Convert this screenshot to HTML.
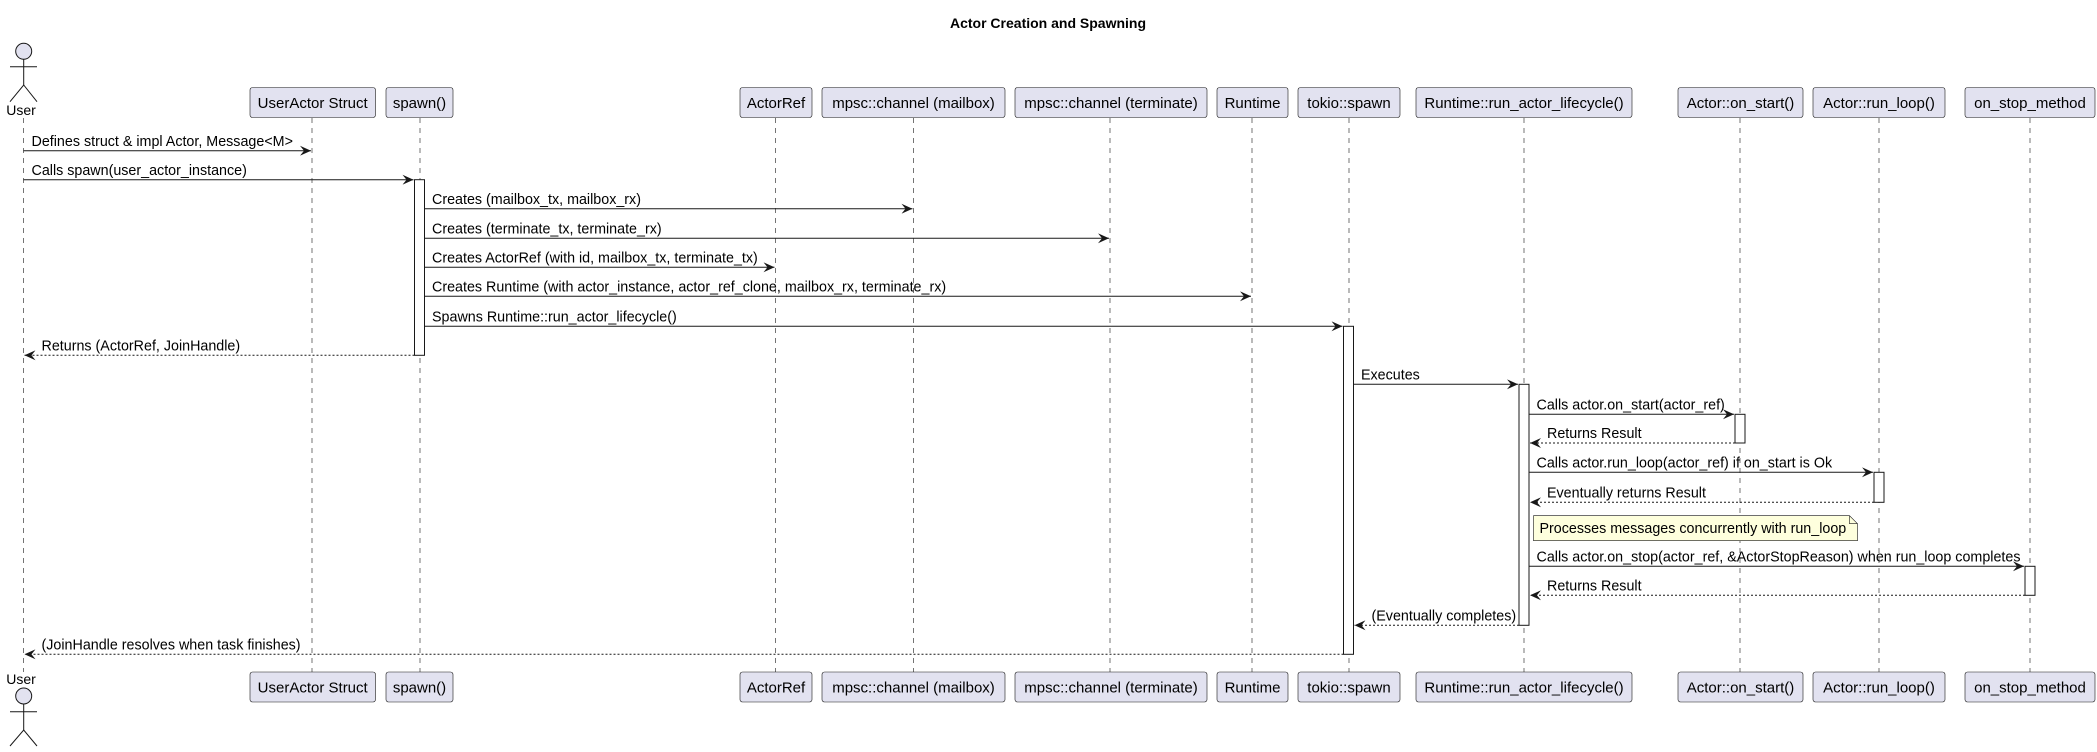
<!DOCTYPE html>
<html><head><meta charset="utf-8"><style>
html,body{margin:0;padding:0;background:#fff;}
svg{display:block;font-family:"Liberation Sans",sans-serif;}
</style></head><body>
<svg width="2097" height="752" viewBox="0 0 2097 752" xmlns="http://www.w3.org/2000/svg">
<defs>
<marker id="a" markerWidth="12" markerHeight="10" refX="11" refY="5" orient="auto" markerUnits="userSpaceOnUse">
<path d="M0,0 L11,5 L0,10 L4,5 Z" fill="#181818"/>
</marker>
</defs>
<text x="1048" y="28" text-anchor="middle" font-size="14" font-weight="bold" fill="#000">Actor Creation and Spawning</text>

<g stroke="#181818" stroke-width="0.6" stroke-dasharray="5,5">
<line x1="23.5" y1="118" x2="23.5" y2="672"/>
<line x1="312" y1="118" x2="312" y2="672"/>
<line x1="420" y1="118" x2="420" y2="672"/>
<line x1="775.5" y1="118" x2="775.5" y2="672"/>
<line x1="913.5" y1="118" x2="913.5" y2="672"/>
<line x1="1110" y1="118" x2="1110" y2="672"/>
<line x1="1252" y1="118" x2="1252" y2="672"/>
<line x1="1349" y1="118" x2="1349" y2="672"/>
<line x1="1524" y1="118" x2="1524" y2="672"/>
<line x1="1740" y1="118" x2="1740" y2="672"/>
<line x1="1879" y1="118" x2="1879" y2="672"/>
<line x1="2030" y1="118" x2="2030" y2="672"/>
</g>

<g stroke="#181818" stroke-width="1" fill="none">
<circle cx="23.7" cy="51.3" r="8" fill="#E2E2F0"/>
<line x1="23.7" y1="59.3" x2="23.7" y2="85"/>
<line x1="10" y1="66.7" x2="37" y2="66.7"/>
<path d="M10,101.7 L23.7,85 L37,101.7"/>
<circle cx="23.7" cy="696" r="8" fill="#E2E2F0"/>
<line x1="23.7" y1="704" x2="23.7" y2="730"/>
<line x1="10" y1="711.7" x2="37" y2="711.7"/>
<path d="M10,746 L23.7,730 L37,746"/>
</g>
<text x="21" y="115" font-size="14" text-anchor="middle">User</text>
<text x="21" y="684" font-size="14" text-anchor="middle">User</text>

<g fill="#E2E2F0" stroke="#181818" stroke-width="0.6">
<rect x="250" y="87.5" width="125.5" height="30" rx="2.5"/>
<rect x="386" y="87.5" width="67" height="30" rx="2.5"/>
<rect x="740" y="87.5" width="72" height="30" rx="2.5"/>
<rect x="822" y="87.5" width="183" height="30" rx="2.5"/>
<rect x="1015" y="87.5" width="192" height="30" rx="2.5"/>
<rect x="1217" y="87.5" width="71" height="30" rx="2.5"/>
<rect x="1298" y="87.5" width="102" height="30" rx="2.5"/>
<rect x="1416" y="87.5" width="216" height="30" rx="2.5"/>
<rect x="1678" y="87.5" width="125" height="30" rx="2.5"/>
<rect x="1813" y="87.5" width="132" height="30" rx="2.5"/>
<rect x="1965" y="87.5" width="130" height="30" rx="2.5"/>

<rect x="250" y="672" width="125.5" height="30" rx="2.5"/>
<rect x="386" y="672" width="67" height="30" rx="2.5"/>
<rect x="740" y="672" width="72" height="30" rx="2.5"/>
<rect x="822" y="672" width="183" height="30" rx="2.5"/>
<rect x="1015" y="672" width="192" height="30" rx="2.5"/>
<rect x="1217" y="672" width="71" height="30" rx="2.5"/>
<rect x="1298" y="672" width="102" height="30" rx="2.5"/>
<rect x="1416" y="672" width="216" height="30" rx="2.5"/>
<rect x="1678" y="672" width="125" height="30" rx="2.5"/>
<rect x="1813" y="672" width="132" height="30" rx="2.5"/>
<rect x="1965" y="672" width="130" height="30" rx="2.5"/>
</g>
<g font-size="15" text-anchor="middle" fill="#000">
<text x="312.7" y="108">UserActor Struct</text>
<text x="419.5" y="108">spawn()</text>
<text x="776" y="108">ActorRef</text>
<text x="913.5" y="108">mpsc::channel (mailbox)</text>
<text x="1111" y="108">mpsc::channel (terminate)</text>
<text x="1252.5" y="108">Runtime</text>
<text x="1349" y="108">tokio::spawn</text>
<text x="1524" y="108">Runtime::run_actor_lifecycle()</text>
<text x="1740.5" y="108">Actor::on_start()</text>
<text x="1879" y="108">Actor::run_loop()</text>
<text x="2030" y="108">on_stop_method</text>

<text x="312.7" y="692.5">UserActor Struct</text>
<text x="419.5" y="692.5">spawn()</text>
<text x="776" y="692.5">ActorRef</text>
<text x="913.5" y="692.5">mpsc::channel (mailbox)</text>
<text x="1111" y="692.5">mpsc::channel (terminate)</text>
<text x="1252.5" y="692.5">Runtime</text>
<text x="1349" y="692.5">tokio::spawn</text>
<text x="1524" y="692.5">Runtime::run_actor_lifecycle()</text>
<text x="1740.5" y="692.5">Actor::on_start()</text>
<text x="1879" y="692.5">Actor::run_loop()</text>
<text x="2030" y="692.5">on_stop_method</text>
</g>

<g fill="#fff" stroke="#181818" stroke-width="1">
<rect x="414.5" y="179.7" width="10" height="175.6"/>
<rect x="1343.5" y="326.3" width="10" height="328"/>
<rect x="1519" y="384.3" width="10" height="241"/>
<rect x="1735" y="414.3" width="10" height="28.7"/>
<rect x="1874" y="472.3" width="10" height="30"/>
<rect x="2025" y="566.3" width="10" height="29"/>
</g>

<g stroke="#181818" stroke-width="1" fill="none" marker-end="url(#a)">
<line x1="23.5" y1="150.7" x2="311" y2="150.7"/>
<line x1="23.5" y1="179.7" x2="413.5" y2="179.7"/>
<line x1="424.5" y1="208.7" x2="912.5" y2="208.7"/>
<line x1="424.5" y1="238.3" x2="1109" y2="238.3"/>
<line x1="424.5" y1="267.3" x2="774.5" y2="267.3"/>
<line x1="424.5" y1="296.3" x2="1251" y2="296.3"/>
<line x1="424.5" y1="326.3" x2="1342.5" y2="326.3"/>
<line x1="414.5" y1="355.3" x2="24.5" y2="355.3" stroke-dasharray="2,2"/>
<line x1="1353.5" y1="384.3" x2="1518" y2="384.3"/>
<line x1="1529" y1="414.3" x2="1734" y2="414.3"/>
<line x1="1735" y1="443" x2="1530" y2="443" stroke-dasharray="2,2"/>
<line x1="1529" y1="472.3" x2="1873" y2="472.3"/>
<line x1="1874" y1="502.3" x2="1530" y2="502.3" stroke-dasharray="2,2"/>
<line x1="1529" y1="566.3" x2="2024" y2="566.3"/>
<line x1="2025" y1="595.3" x2="1530" y2="595.3" stroke-dasharray="2,2"/>
<line x1="1519" y1="625.3" x2="1354.5" y2="625.3" stroke-dasharray="2,2"/>
<line x1="1343.5" y1="654.3" x2="24.5" y2="654.3" stroke-dasharray="2,2"/>
</g>
<g font-size="14.3" fill="#000">
<text x="31.5" y="146">Defines struct &amp; impl Actor, Message&lt;M&gt;</text>
<text x="31.5" y="175">Calls spawn(user_actor_instance)</text>
<text x="432" y="204">Creates (mailbox_tx, mailbox_rx)</text>
<text x="432" y="233.5">Creates (terminate_tx, terminate_rx)</text>
<text x="432" y="262.5">Creates ActorRef (with id, mailbox_tx, terminate_tx)</text>
<text x="432" y="291.5">Creates Runtime (with actor_instance, actor_ref_clone, mailbox_rx, terminate_rx)</text>
<text x="432" y="321.5">Spawns Runtime::run_actor_lifecycle()</text>
<text x="41.5" y="350.5">Returns (ActorRef, JoinHandle)</text>
<text x="1361" y="379.5">Executes</text>
<text x="1536.5" y="409.5">Calls actor.on_start(actor_ref)</text>
<text x="1547" y="438">Returns Result</text>
<text x="1536.5" y="467.5">Calls actor.run_loop(actor_ref) if on_start is Ok</text>
<text x="1547" y="497.5">Eventually returns Result</text>
<text x="1536.5" y="561.5">Calls actor.on_stop(actor_ref, &amp;ActorStopReason) when run_loop completes</text>
<text x="1547" y="590.5">Returns Result</text>
<text x="1371.5" y="620.5">(Eventually completes)</text>
<text x="41.5" y="649.5">(JoinHandle resolves when task finishes)</text>
</g>

<path d="M1533.5,515.7 L1849.5,515.7 L1857.5,523.7 L1857.5,540.7 L1533.5,540.7 Z" fill="#FEFFDD" stroke="#181818" stroke-width="0.6"/>
<path d="M1849.5,515.7 L1849.5,523.7 L1857.5,523.7" fill="none" stroke="#181818" stroke-width="0.6"/>
<text x="1539.5" y="533" font-size="14.3">Processes messages concurrently with run_loop</text>
</svg>
</body></html>
